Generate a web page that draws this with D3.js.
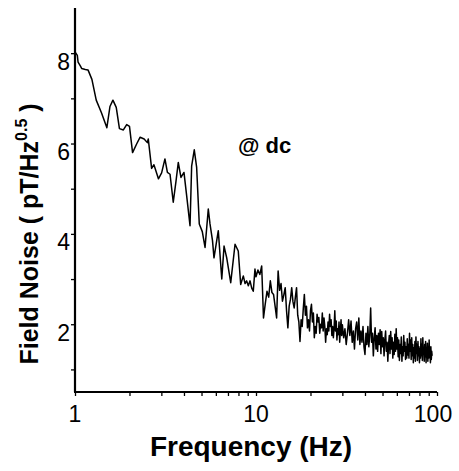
<!DOCTYPE html>
<html><head><meta charset="utf-8">
<script src="https://cdn.jsdelivr.net/npm/d3@7"></script>
<style>body{margin:0;background:#fff;} svg{display:block;}</style>
</head><body>
<svg id="c" width="459" height="471"></svg>
<script>
// ---- data ----
const lowFreq = [
 1.00,1.03,1.04,1.07,1.09,1.14,1.18,1.24,1.31,1.40,1.50,1.56,1.62,1.69,1.76,1.85,1.93,2.00,
 2.08,2.19,2.29,2.41,2.51,2.54,2.65,2.73,2.89,3.01,3.14,3.24,3.35,3.49,3.61,3.72,3.85,4.00,
 4.14,4.32,4.41,4.56,4.70,4.86,5.05,5.23,5.45,5.57,5.75,5.86,6.19,6.47,6.66,6.89,7.25,7.66,
 7.98,8.23,8.51,8.70,8.88,9.07,9.27,9.47,9.66,9.87
];
const lowNoise = [
 8.03,7.95,7.80,7.72,7.66,7.64,7.63,7.42,6.96,6.68,6.35,6.82,6.96,6.80,6.33,6.30,6.42,6.38,
 5.80,5.99,6.14,6.10,6.02,6.10,5.45,5.53,5.22,5.35,5.66,5.36,5.32,4.70,5.15,5.58,5.25,5.36,
 4.84,4.18,5.50,5.86,5.47,4.22,4.05,3.70,4.55,4.22,3.85,3.47,4.07,3.00,3.73,3.47,2.92,3.77,
 3.62,2.88,3.07,2.90,2.96,2.85,2.96,2.80,2.73,3.22
];
const midFreq = [
 10.0,10.25,10.5,10.75,11.0,11.25,11.5,11.75,12.0,12.25,12.5,12.75,13.0,13.25,13.5,
 13.75,14.0,14.25,14.5,14.75,15.0,15.25,15.5,15.75,16.0,16.25,16.5,16.75,17.0,17.25
];
const midNoise = [
 3.05,3.20,3.10,3.29,2.14,2.45,2.73,2.60,2.96,2.70,2.66,2.40,2.14,3.18,2.75,
 2.90,2.51,2.65,2.81,2.30,1.92,2.40,2.55,2.81,2.50,2.36,2.60,2.81,2.20,2.05
];
const highFreq = [
 17.5,17.75,18.0,18.25,18.5,18.75,19.0,19.25,19.5,19.75,20.0,20.25,20.5,20.75,21.0,21.25,
 21.5,21.75,22.0,22.25,22.5,22.75,23.0,23.25,23.5,23.75,24.0,24.25,24.5,24.75,25.0,25.25,
 25.5,25.75,26.0,26.25,26.5,26.75,27.0,27.25,27.5,27.75,28.0,28.25,28.5,28.75,29.0,29.25,
 29.5,29.75,
 30,30.5,31,31.5,32,32.5,33,33.5,34,34.5,35,35.5,36,36.5,37,37.5,38,38.5,39,39.5,
 40,40.5,41,41.5,42,42.5,43,43.5,44,44.5,45,45.5,46,46.5,47,47.5,48,48.5,49,49.5,
 50,50.5,51,51.5,52,52.5,53,53.5,54,54.5,55,55.5,56,56.5,57,57.5,58,58.5,59,59.5,
 60,60.5,61,61.5,62,62.5,63,63.5,64,64.5,65,65.5,66,66.5,67,67.5,68,68.5,69,69.5,
 70,70.5,71,71.5,72,72.5,73,73.5,74,74.5,75,75.5,76,76.5,77,77.5,78,78.5,79,79.5,
 80,80.5,81,81.5,82,82.5,83,83.5,84,84.5,85,85.5,86,86.5,87,87.5,88,88.5,89,89.5,
 90,90.5,91,91.5,92,92.5,93,93.5,94
];
const highNoise = [
 1.62,2.10,1.95,2.35,2.66,2.20,2.40,1.92,2.10,1.85,2.30,2.44,2.05,2.25,1.70,1.95,
 1.80,2.22,2.05,2.15,1.80,2.00,1.92,2.25,1.85,2.14,1.95,1.60,1.90,1.77,2.05,1.85,
 2.22,1.95,2.10,1.75,1.95,1.70,1.90,2.30,1.85,2.07,1.65,1.90,1.77,2.05,1.60,1.85,
 2.10,1.75,
 1.99,1.70,1.90,1.55,1.80,2.10,1.75,2.07,1.60,1.85,1.45,1.90,2.05,1.65,2.14,1.55,1.85,1.60,1.95,1.50,
 1.33,1.80,1.55,1.95,1.50,1.75,2.36,1.60,1.80,1.30,1.70,1.92,1.45,1.75,1.40,1.80,1.55,1.88,1.35,1.84,
 1.50,1.70,1.30,1.65,1.85,1.40,1.60,1.18,1.55,1.75,1.35,1.84,1.45,1.70,1.25,1.60,1.33,1.78,1.40,1.90,
 1.45,1.70,1.28,1.65,1.20,1.55,1.35,1.72,1.18,1.50,1.30,1.75,1.40,1.60,1.22,1.50,1.25,1.68,1.32,1.55,
 1.25,1.80,1.40,1.65,1.22,1.70,1.30,1.55,1.15,1.48,1.25,1.62,1.18,1.72,1.35,1.55,1.20,1.62,1.30,1.50,
 1.15,1.45,1.25,1.68,1.30,1.55,1.20,1.70,1.35,1.48,1.18,1.55,1.28,1.62,1.15,1.45,1.30,1.58,1.18,1.50,
 1.25,1.65,1.30,1.40,1.15,1.50,1.22,1.40,1.30
];
const yMajorTicks = [2,4,6,8];
const yMinorTicks = [1,3,5,7];
const xMajorTicks = [1,10,100];
const xMinorTicks = [2,3,4,5,6,7,8,9,20,30,40,50,60,70,80,90];
const xTickLabels = ["1","10","100"];

// ---- drawing ----
const svg = d3.select("#c");
const x = d3.scaleLog().domain([1,100]).range([75,437]);
const y = d3.scaleLinear().domain([0.5,9]).range([392,8]);

function pairs(fs, vs){ const n=Math.min(fs.length,vs.length); return d3.range(n).map(i=>[fs[i],vs[i]]); }
const pts = pairs(lowFreq,lowNoise).concat(pairs(midFreq,midNoise), pairs(highFreq,highNoise));

svg.append("path")
  .attr("d", d3.line().x(d=>x(d[0])).y(d=>y(d[1]))(pts))
  .attr("fill","none").attr("stroke","#000").attr("stroke-width",1.5)
  .attr("stroke-linejoin","round");

// Y axis
const gy = svg.append("g").attr("transform","translate(75,0)");
gy.call(d3.axisLeft(y).tickValues(yMajorTicks.concat(yMinorTicks)).tickSize(4).tickFormat(""));
gy.select(".domain").remove();
gy.selectAll(".tick line").attr("stroke","#000").attr("stroke-width",1.3);
svg.append("line").attr("x1",75).attr("x2",75).attr("y1",y(9)).attr("y2",y(0.5))
  .attr("stroke","#000").attr("stroke-width",2.2);
svg.selectAll("text.ylab").data(yMajorTicks).enter().append("text")
  .attr("class","ylab").attr("x",70).attr("y",d=>y(d)+16.5)
  .attr("text-anchor","end").attr("font-family","Liberation Sans, Arial, sans-serif")
  .attr("font-size",23).text(d=>d);

// X axis
const gx = svg.append("g").attr("transform","translate(0,392)");
gx.call(d3.axisBottom(x).tickValues(xMajorTicks.concat(xMinorTicks)).tickSize(4).tickFormat(""));
gx.select(".domain").remove();
gx.selectAll(".tick line").attr("stroke","#000").attr("stroke-width",1.3);
svg.append("line").attr("x1",x(1)-1).attr("x2",x(100)).attr("y1",392).attr("y2",392)
  .attr("stroke","#000").attr("stroke-width",2.2);
svg.selectAll("text.xlab").data(xMajorTicks).enter().append("text")
  .attr("class","xlab").attr("x",d=>x(d)-(d===100?4:0)).attr("y",422)
  .attr("text-anchor","middle").attr("font-family","Liberation Sans, Arial, sans-serif")
  .attr("font-size",23).text((d,i)=>xTickLabels[i]);

// Titles
svg.append("text").attr("x",251).attr("y",456).attr("text-anchor","middle")
  .attr("font-family","Liberation Sans, Arial, sans-serif").attr("font-weight","bold")
  .attr("font-size",28).text("Frequency (Hz)");

const yt = svg.append("text").attr("transform","translate(38,234) rotate(-90)")
  .attr("text-anchor","middle")
  .attr("font-family","Liberation Sans, Arial, sans-serif").attr("font-weight","bold")
  .attr("font-size",25);
yt.append("tspan").text("Field Noise ( pT/Hz");
yt.append("tspan").attr("font-size",16).attr("dy",-11).text("0.5");
yt.append("tspan").attr("dy",11).text(" )");

svg.append("text").attr("x",238).attr("y",153)
  .attr("font-family","Liberation Sans, Arial, sans-serif").attr("font-weight","bold")
  .attr("font-size",22).text("@ dc");
</script>
</body></html>
